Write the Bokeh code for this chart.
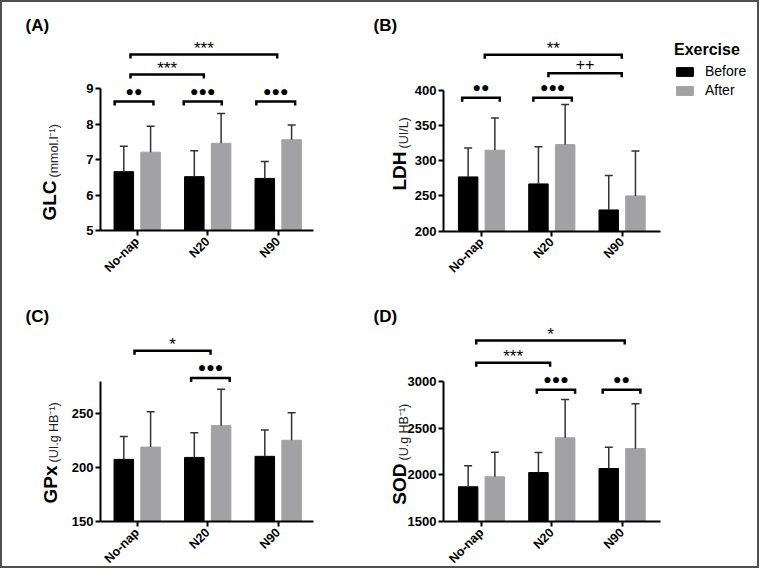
import math
from bokeh.plotting import figure
from bokeh.models import (Range1d, FixedTicker, Whisker, TeeHead, Label, Legend,
                          LegendItem, ColumnDataSource, LinearAxis)
from bokeh.layouts import gridplot
from bokeh.embed import file_html
from bokeh.resources import INLINE
from bokeh.core.properties import value

# ---------------- data ----------------
groups = ["No-nap", "N20", "N90"]

glc_before = [6.66, 6.52, 6.47]
glc_before_sd = [0.72, 0.73, 0.48]
glc_after = [7.21, 7.46, 7.56]
glc_after_sd = [0.73, 0.84, 0.42]

ldh_before = [277, 267, 230]
ldh_before_sd = [41, 53, 49]
ldh_after = [315, 323, 250]
ldh_after_sd = [46, 57, 64]

gpx_before = [207.7, 209.5, 210.5]
gpx_before_sd = [21.3, 22.9, 24.4]
gpx_after = [219.1, 239.0, 225.4]
gpx_after_sd = [32.9, 33.9, 25.6]

sod_before = [1872, 2025, 2068]
sod_before_sd = [225, 215, 228]
sod_after = [1979, 2397, 2282]
sod_after_sd = [264, 411, 479]

glc_ticks = [5, 6, 7, 8, 9]
ldh_ticks = [200, 250, 300, 350, 400]
gpx_ticks = [150, 200, 250]
sod_ticks = [1500, 2000, 2500, 3000]

# significance brackets: (from, to, height, label)
glc_brackets = [(-0.32, 0.23, 8.64, "●●"), (0.66, 1.20, 8.64, "●●●"),
                (1.69, 2.24, 8.64, "●●●"), (-0.095, 0.945, 9.40, "***"),
                (-0.095, 1.986, 9.97, "***")]
ldh_brackets = [(-0.275, 0.26, 389.6, "●●"), (0.738, 1.285, 389.6, "●●●"),
                (0.952, 1.995, 424.6, "++"), (0.047, 1.995, 451, "**")]
gpx_brackets = [(0.765, 1.312, 283.3, "●●●"), (-0.038, 1.04, 308.6, "*")]
sod_brackets = [(0.787, 1.331, 2911, "●●●"), (1.724, 2.26, 2911, "●●"),
                (-0.075, 0.976, 3201, "***"), (-0.075, 2.037, 3440, "*")]

GREY = "#a2a2a6"
FONT = "Liberation Sans"


def panel(W, H, c0, xppu, ax_l, ax_r, base, base_py, yppu, yticks, ytop,
          before, bsd, after, asd, brackets, letter, letter_pos,
          main, unit, main_x, unit_x, junction_y, legend=None):
    xr = (-c0 / xppu, (W - c0) / xppu)
    yr = (base - (H - base_py) / yppu, base + base_py / yppu)

    def fx(px):
        return (px - c0) / xppu

    def fy(py):
        return base + (base_py - py) / yppu

    p = figure(width=W, height=H, x_range=Range1d(*xr), y_range=Range1d(*yr),
               output_backend="svg", toolbar_location=None,
               x_axis_type=None, y_axis_type=None, min_border=0)
    p.outline_line_color = None
    p.grid.visible = False

    xs = list(range(len(groups)))
    off, bw = 0.19, 0.277
    src = ColumnDataSource(dict(
        xb=[x - off for x in xs], xa=[x + off for x in xs],
        before=before, after=after,
        bup=[v + s for v, s in zip(before, bsd)],
        aup=[v + s for v, s in zip(after, asd)]))
    rb = p.vbar(x="xb", top="before", bottom=base, width=bw, fill_color="black",
                line_color="black", source=src)
    ra = p.vbar(x="xa", top="after", bottom=base, width=bw, fill_color=GREY,
                line_color=GREY, source=src)
    for b_, lo, up in (("xb", "before", "bup"), ("xa", "after", "aup")):
        w = Whisker(base=b_, lower=lo, upper=up, source=src,
                    line_color="#333333", line_width=1.5, lower_head=None,
                    upper_head=TeeHead(size=8, line_color="#333333", line_width=1.5),
                    level="glyph")
        p.add_layout(w)

    # brackets
    d = 4.0 / yppu
    bxs, bys, tx, ty, tt, tsz, toff = [], [], [], [], [], [], []
    for x0, x1, y, lab in brackets:
        bxs.append([x0, x0, x1, x1])
        bys.append([y - d, y, y, y - d])
        tx.append((x0 + x1) / 2)
        ty.append(y)
        tt.append(lab)
        if "●" in lab:
            tsz.append("14px"); toff.append(-11)
        elif "+" in lab:
            tsz.append("16px"); toff.append(-9)
        else:
            tsz.append("17px"); toff.append(-6)
    p.multi_line(xs=bxs, ys=bys, line_color="black", line_width=2.5,
                 line_join="miter")
    tsrc = ColumnDataSource(dict(x=tx, y=ty, t=tt, s=tsz, o=toff))
    p.text(x="x", y="y", text="t", text_font_size="s", y_offset="o",
           text_font=value(FONT), text_align="center", text_baseline="middle",
           text_color="black", source=tsrc)

    # axes
    xaxis = LinearAxis(fixed_location=base, ticker=FixedTicker(ticks=xs),
                       bounds=(fx(ax_l), fx(ax_r)))
    xaxis.major_label_overrides = {i: g for i, g in enumerate(groups)}
    xaxis.major_label_orientation = math.pi / 4
    yaxis = LinearAxis(fixed_location=fx(ax_l), ticker=FixedTicker(ticks=yticks),
                       bounds=(base, ytop))
    for ax in (xaxis, yaxis):
        ax.axis_line_width = 2
        ax.axis_line_color = "black"
        ax.major_tick_line_width = 2
        ax.major_tick_out = 5
        ax.major_tick_in = 0
        ax.minor_tick_line_color = None
        ax.major_label_text_font = FONT
        ax.major_label_text_font_style = "bold"
        ax.major_label_text_color = "black"
    xaxis.major_label_text_font_size = "12.5px"
    yaxis.major_label_text_font_size = "13px"
    yaxis.major_label_standoff = 2
    xaxis.major_label_standoff = 4
    p.add_layout(xaxis, "below")
    p.add_layout(yaxis, "left")

    p.add_layout(Label(x=fx(letter_pos[0]), y=fy(letter_pos[1]), text=letter,
                       text_font=FONT, text_font_size="17px", text_font_style="bold",
                       text_color="black", text_baseline="middle", text_align="left"))
    p.add_layout(Label(x=fx(main_x), y=fy(junction_y), text=main, angle=math.pi / 2,
                       text_font=FONT, text_font_size="19px", text_font_style="bold",
                       text_color="black", text_baseline="middle", text_align="right"))
    p.add_layout(Label(x=fx(unit_x), y=fy(junction_y - 3), text=unit,
                       angle=math.pi / 2, text_font=FONT, text_font_size="12.5px",
                       text_color="#222222", text_baseline="middle", text_align="left"))

    if legend is not None:
        lg = Legend(items=[LegendItem(label="Before", renderers=[rb]),
                           LegendItem(label="After", renderers=[ra])],
                    title="Exercise", location=legend)
        lg.title_text_font = FONT
        lg.title_text_font_size = "16px"
        lg.title_text_font_style = "bold"
        lg.title_text_color = "black"
        lg.title_standoff = 4
        lg.label_text_font = FONT
        lg.label_text_font_size = "14px"
        lg.label_text_color = "black"
        lg.glyph_width = 21
        lg.glyph_height = 11
        lg.label_height = 14
        lg.label_standoff = 10
        lg.spacing = 3
        lg.padding = 0
        lg.margin = 0
        lg.border_line_color = None
        lg.background_fill_alpha = 0
        p.add_layout(lg)
    return p


pa = panel(368, 288, 134.7, 70.5, 98, 311, 5, 228, 35.43, glc_ticks, 9,
           glc_before, glc_before_sd, glc_after, glc_after_sd, glc_brackets,
           "(A)", (23, 23), "GLC", "(mmol.l⁻¹)", 47, 51, 178)
pb = panel(387, 288, 111, 70.3, 73, 290, 200, 228.5, 0.7025, ldh_ticks, 400,
           ldh_before, ldh_before_sd, ldh_after, ldh_after_sd, ldh_brackets,
           "(B)", (3, 23), "LDH", "(UI/L)", 28.5, 33, 149, legend=(304, 192))
pc = panel(368, 276, 134.7, 70.5, 98, 311, 150, 231, 1.077, gpx_ticks, 280,
           gpx_before, gpx_before_sd, gpx_after, gpx_after_sd, gpx_brackets,
           "(C)", (23, 26), "GPx", "(UI.g HB⁻¹)", 48, 51, 175)
pd_ = panel(387, 276, 111, 70.3, 73, 290, 1500, 231, 0.09333, sod_ticks, 3000,
            sod_before, sod_before_sd, sod_after, sod_after_sd, sod_brackets,
            "(D)", (3, 26), "SOD", "(U.g HB⁻¹)", 28.5, 33, 173)

grid = gridplot([[pa, pb], [pc, pd_]], toolbar_location=None)
grid.styles = {"border": "2px solid #505050"}

open("out.html", "w").write(file_html(grid, INLINE))
